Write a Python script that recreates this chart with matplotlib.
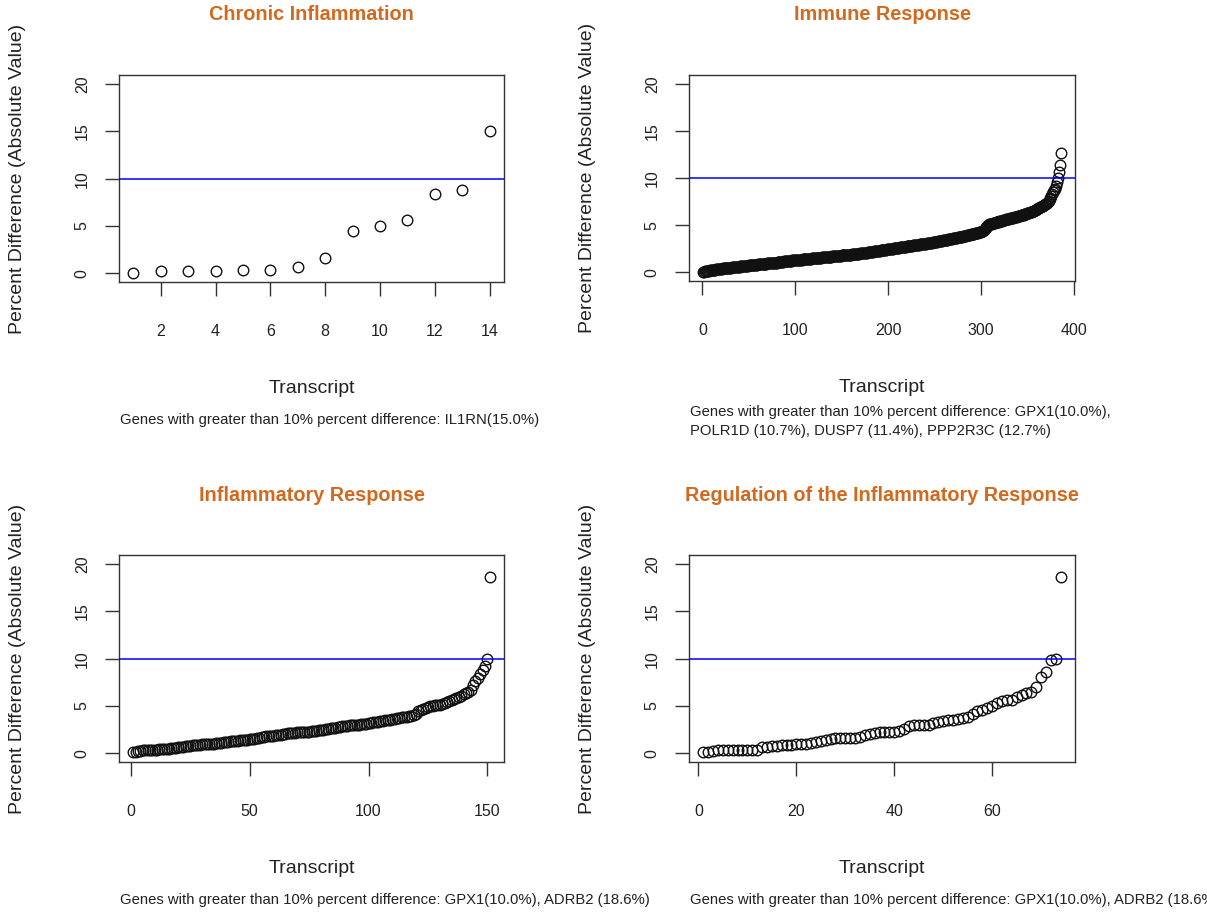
import numpy as np
import matplotlib.pyplot as plt

plt.rcParams['font.family'] = ['Liberation Sans', 'DejaVu Sans']

W, H = 1207, 913

# ---- data: absolute percent difference per transcript, sorted ascending ----
chronic = [0.07, 0.2, 0.2, 0.2, 0.4, 0.4, 0.7, 1.6, 4.5, 5.0, 5.6, 8.4, 8.8, 15.0]

immune = [
    0.05, 0.08, 0.10, 0.12, 0.14, 0.16, 0.18, 0.20, 0.22, 0.24,
    0.26, 0.27, 0.29, 0.30, 0.32, 0.33, 0.35, 0.36, 0.38, 0.39,
    0.40, 0.41, 0.43, 0.44, 0.45, 0.46, 0.47, 0.48, 0.49, 0.50,
    0.51, 0.52, 0.53, 0.54, 0.55, 0.56, 0.57, 0.58, 0.59, 0.60,
    0.62, 0.63, 0.64, 0.66, 0.67, 0.68, 0.70, 0.71, 0.72, 0.74,
    0.75, 0.76, 0.77, 0.78, 0.79, 0.80, 0.81, 0.82, 0.83, 0.84,
    0.85, 0.86, 0.87, 0.88, 0.89, 0.90, 0.91, 0.92, 0.93, 0.94,
    0.95, 0.96, 0.97, 0.98, 0.99, 1.00, 1.01, 1.02, 1.03, 1.04,
    1.06, 1.07, 1.09, 1.10, 1.12, 1.13, 1.15, 1.16, 1.18, 1.19,
    1.20, 1.21, 1.22, 1.23, 1.24, 1.25, 1.26, 1.27, 1.28, 1.29,
    1.30, 1.31, 1.32, 1.33, 1.34, 1.35, 1.36, 1.37, 1.38, 1.39,
    1.40, 1.41, 1.42, 1.43, 1.44, 1.45, 1.46, 1.47, 1.48, 1.49,
    1.50, 1.51, 1.52, 1.53, 1.54, 1.55, 1.56, 1.57, 1.58, 1.59,
    1.60, 1.61, 1.62, 1.63, 1.64, 1.65, 1.66, 1.67, 1.68, 1.69,
    1.70, 1.71, 1.72, 1.73, 1.74, 1.75, 1.76, 1.77, 1.78, 1.79,
    1.80, 1.81, 1.82, 1.83, 1.84, 1.85, 1.86, 1.87, 1.88, 1.89,
    1.90, 1.91, 1.92, 1.93, 1.94, 1.95, 1.96, 1.97, 1.98, 2.00,
    2.01, 2.03, 2.04, 2.06, 2.07, 2.09, 2.10, 2.12, 2.13, 2.15,
    2.16, 2.18, 2.19, 2.21, 2.22, 2.24, 2.25, 2.27, 2.28, 2.30,
    2.31, 2.33, 2.34, 2.36, 2.37, 2.39, 2.40, 2.42, 2.43, 2.45,
    2.46, 2.48, 2.49, 2.51, 2.52, 2.54, 2.55, 2.57, 2.58, 2.60,
    2.61, 2.63, 2.64, 2.66, 2.67, 2.69, 2.70, 2.72, 2.73, 2.75,
    2.76, 2.78, 2.79, 2.81, 2.82, 2.84, 2.85, 2.87, 2.88, 2.90,
    2.91, 2.93, 2.94, 2.96, 2.97, 2.99, 3.00, 3.02, 3.03, 3.05,
    3.06, 3.08, 3.09, 3.11, 3.12, 3.14, 3.15, 3.17, 3.18, 3.20,
    3.22, 3.24, 3.26, 3.28, 3.30, 3.32, 3.34, 3.36, 3.38, 3.40,
    3.42, 3.44, 3.46, 3.48, 3.50, 3.52, 3.54, 3.56, 3.58, 3.60,
    3.62, 3.64, 3.66, 3.68, 3.70, 3.72, 3.74, 3.76, 3.78, 3.80,
    3.82, 3.85, 3.87, 3.90, 3.92, 3.95, 3.97, 4.00, 4.02, 4.05,
    4.07, 4.10, 4.12, 4.15, 4.17, 4.20, 4.22, 4.25, 4.27, 4.30,
    4.35, 4.42, 4.50, 4.60, 4.72, 4.85, 4.95, 5.02, 5.08, 5.12,
    5.15, 5.18, 5.21, 5.24, 5.27, 5.30, 5.33, 5.36, 5.38, 5.40,
    5.43, 5.46, 5.49, 5.52, 5.55, 5.58, 5.61, 5.64, 5.67, 5.70,
    5.72, 5.75, 5.77, 5.80, 5.82, 5.85, 5.87, 5.90, 5.92, 5.95,
    5.98, 6.01, 6.04, 6.07, 6.10, 6.13, 6.16, 6.19, 6.22, 6.25,
    6.29, 6.33, 6.37, 6.41, 6.45, 6.49, 6.53, 6.58, 6.63, 6.68,
    6.73, 6.78, 6.84, 6.90, 6.96, 7.02, 7.09, 7.16, 7.23, 7.30,
    7.40, 7.50, 7.62, 7.75, 7.90, 8.10, 8.30, 8.50, 8.70, 8.90,
    9.20, 9.60, 10.0, 10.7, 11.4, 12.7,
]

inflammatory = [
    0.1, 0.1, 0.2, 0.2, 0.3, 0.3, 0.3, 0.4, 0.4, 0.4,
    0.4, 0.5, 0.5, 0.5, 0.5, 0.5, 0.6, 0.6, 0.6, 0.7,
    0.7, 0.7, 0.8, 0.8, 0.8, 0.9, 0.9, 0.9, 0.9, 1.0,
    1.0, 1.0, 1.0, 1.0, 1.0, 1.1, 1.1, 1.1, 1.2, 1.2,
    1.2, 1.3, 1.3, 1.3, 1.3, 1.4, 1.4, 1.4, 1.4, 1.5,
    1.5, 1.5, 1.6, 1.6, 1.7, 1.7, 1.8, 1.8, 1.8, 1.8,
    1.9, 1.9, 1.9, 2.0, 2.0, 2.1, 2.1, 2.1, 2.1, 2.2,
    2.2, 2.2, 2.3, 2.3, 2.3, 2.4, 2.4, 2.4, 2.5, 2.5,
    2.5, 2.6, 2.6, 2.7, 2.7, 2.7, 2.8, 2.8, 2.9, 2.9,
    2.9, 3.0, 3.0, 3.0, 3.0, 3.0, 3.1, 3.1, 3.1, 3.2,
    3.2, 3.3, 3.3, 3.3, 3.4, 3.4, 3.5, 3.5, 3.5, 3.6,
    3.6, 3.7, 3.7, 3.8, 3.8, 3.8, 3.9, 3.9, 4.0, 4.1,
    4.5, 4.6, 4.7, 4.8, 4.9, 5.0, 5.0, 5.1, 5.1, 5.1,
    5.2, 5.3, 5.4, 5.5, 5.6, 5.7, 5.8, 5.9, 6.1, 6.3,
    6.4, 6.5, 6.7, 7.2, 7.6, 8.0, 8.4, 8.8, 9.2, 10.0,
    18.6,
]

regulation = [
    0.1, 0.1, 0.2, 0.3, 0.3, 0.4, 0.4, 0.4, 0.4, 0.4,
    0.4, 0.4, 0.7, 0.7, 0.8, 0.8, 0.9, 0.9, 0.9, 1.0,
    1.0, 1.0, 1.1, 1.2, 1.3, 1.4, 1.5, 1.6, 1.6, 1.6,
    1.6, 1.6, 1.7, 1.9, 2.0, 2.1, 2.2, 2.2, 2.2, 2.3,
    2.4, 2.6, 2.9, 3.0, 3.0, 3.0, 3.0, 3.2, 3.3, 3.4,
    3.5, 3.5, 3.6, 3.7, 3.8, 4.2, 4.5, 4.6, 4.8, 5.0,
    5.3, 5.5, 5.6, 5.6, 6.0, 6.2, 6.4, 6.5, 7.0, 8.1,
    8.6, 9.9, 10.0, 18.6,
]

series = [chronic, immune, inflammatory, regulation]
titles = ["Chronic Inflammation", "Immune Response",
          "Inflammatory Response", "Regulation of the Inflammatory Response"]
notes = [
    ["Genes with greater than 10% percent difference: IL1RN(15.0%)"],
    ["Genes with greater than 10% percent difference: GPX1(10.0%),",
     "POLR1D (10.7%), DUSP7 (11.4%), PPP2R3C (12.7%)"],
    ["Genes with greater than 10% percent difference: GPX1(10.0%), ADRB2 (18.6%)"],
    ["Genes with greater than 10% percent difference: GPX1(10.0%), ADRB2 (18.6%)"],
]
x_ticks = [[2, 4, 6, 8, 10, 12, 14], [0, 100, 200, 300, 400],
           [0, 50, 100, 150], [0, 20, 40, 60]]
y_ticks = [0, 5, 10, 15, 20]
threshold = 10

# plot boxes in pixels: left, right, top, bottom
boxes = [(119, 504, 75, 282), (689, 1075, 75, 281),
         (119, 504, 555, 762), (689, 1075, 555, 762)]

TITLE_COLOR = "#D2691E"
INK = "#222222"

fig = plt.figure(figsize=(W / 100, H / 100), dpi=100)
fig.patch.set_facecolor("white")

for vals, title, note, xt, (l, r, t, b) in zip(series, titles, notes, x_ticks, boxes):
    ax = fig.add_axes([l / W, 1 - b / H, (r - l) / W, (b - t) / H])
    n = len(vals)
    x = np.arange(1, n + 1)
    ax.plot(x, vals, "o", mfc="none", mec="#111111", ms=7.6, mew=1.0, zorder=2)
    ax.axhline(threshold, color="#0000FF", lw=1.1, zorder=3)

    # R-style 4% padding around the data range
    pad = 0.04 * (n - 1)
    ax.set_xlim(1 - pad, n + pad)
    ax.set_ylim(-0.92, 20.95)
    ax.set_xticks(xt)
    ax.set_yticks(y_ticks)

    for s in ax.spines.values():
        s.set_color("#333333")
        s.set_linewidth(1.0)
    ax.tick_params(direction="out", length=10, width=1.0, color="#333333",
                   labelsize=11.5, labelcolor=INK)
    ax.tick_params(axis="x", pad=20)
    ax.tick_params(axis="y", pad=11, labelrotation=90)
    for lbl in ax.get_yticklabels():
        lbl.set_va("center")

    cx = (l + r) / 2
    fig.text(cx / W, 1 - (t - 60) / H, title, ha="center", va="center",
             fontsize=14.3, fontweight="bold", color=TITLE_COLOR)
    fig.text(cx / W, 1 - (b + 106) / H, "Transcript", ha="center", va="center",
             fontsize=14, color=INK)
    fig.text((l - 101) / W, 1 - (t + b) / 2 / H, "Percent Difference (Absolute Value)",
             ha="center", va="center", rotation=90, fontsize=14, color=INK)
    # the long notes run past the panel edge, as in the original layout
    first = b + 138 - 7 * (len(note) - 1)
    for k, line in enumerate(note):
        fig.text((l + 1) / W, 1 - (first + 19 * k) / H, line, ha="left", va="center",
                 fontsize=10.75, color=INK)

fig.savefig("out.png", dpi=100)
